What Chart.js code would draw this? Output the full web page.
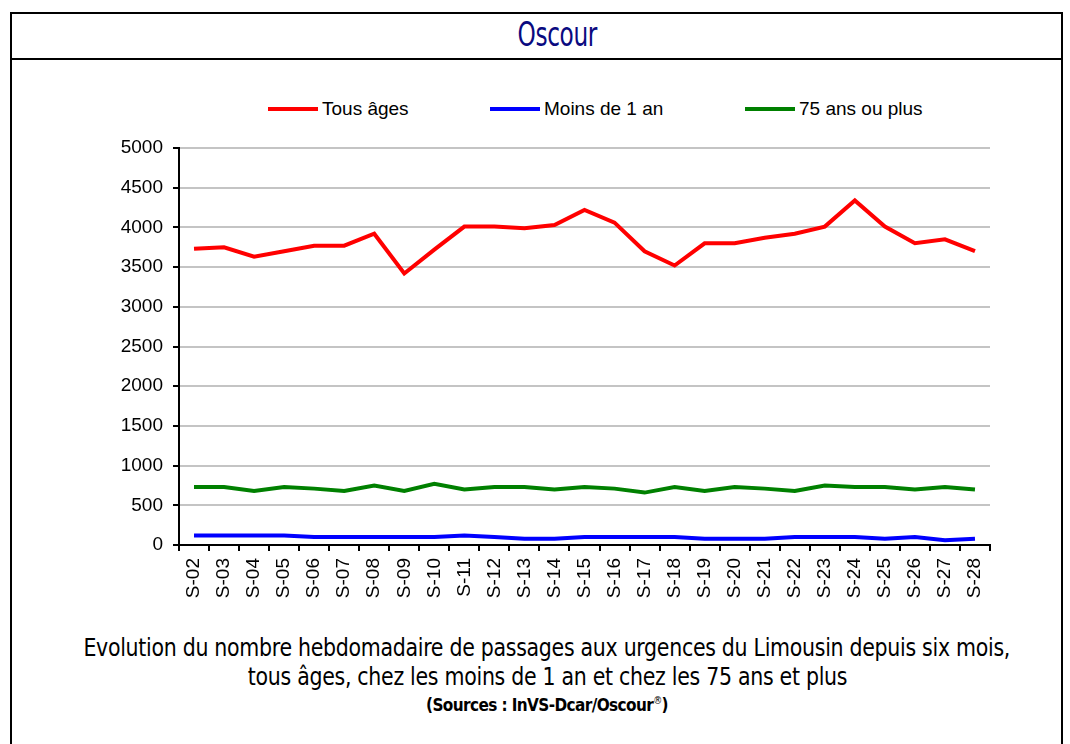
<!DOCTYPE html>
<html>
<head>
<meta charset="utf-8">
<script src="https://cdn.jsdelivr.net/npm/chart.js@4.4.1/dist/chart.umd.min.js"></script>
<style>
  html, body { margin: 0; padding: 0; background: #fff; overflow: hidden; }
  body { width: 1070px; height: 744px; position: relative; }
  .frame { position: absolute; left: 10px; top: 12px; width: 1053px; height: 740px;
           border: 2px solid #000; box-sizing: border-box; }
  .head { position: absolute; left: 10px; top: 12px; width: 1053px; height: 48px;
          border-bottom: 2px solid #000; box-sizing: border-box; }
  .row { position: absolute; left: 0; width: 1094px; text-align: center; white-space: nowrap;
         font-family: "DejaVu Sans Condensed", "DejaVu Sans", sans-serif; font-stretch: condensed; color: #000; }
  .row span { display: inline-block; }
  .ttl { top: 14px; left: 10px; font-size: 34px; color: #0a0a80; }
  .ttl span { transform: scaleX(0.76); letter-spacing: -0.5px; }
  .c1 { top: 634px; font-size: 24px; }
  .c2 { top: 663px; font-size: 24px; }
  .c1 span, .c2 span { transform: scaleX(0.95); letter-spacing: -0.3px; }
  .c3 { top: 695px; font-size: 17px; font-weight: bold; }
  .c3 span { letter-spacing: -0.6px; }
  .c3 sup { font-size: 10px; font-weight: normal; }
  #wrap { position: absolute; left: 110px; top: 120px; width: 970px; height: 490px; }
  .leg { position: absolute; top: 97px; height: 24px; font-family: "Liberation Sans", Arial, sans-serif;
         font-size: 19px; line-height: 24px; color: #000; white-space: nowrap; }
  .leg i { position: absolute; left: 0; top: 10px; width: 50px; height: 4px; }
  .leg b { position: absolute; left: 54px; top: 0; font-weight: normal; }
</style>
</head>
<body>
<div class="frame"></div>
<div class="head"></div>
<div class="row ttl"><span>Oscour</span></div>
<div id="legend"></div>
<div id="wrap"><canvas id="oscourChart"></canvas></div>
<div class="row c1"><span>Evolution du nombre hebdomadaire de passages aux urgences du Limousin depuis six mois,</span></div>
<div class="row c2"><span>tous âges, chez les moins de 1 an et chez les 75 ans et plus</span></div>
<div class="row c3"><span>(Sources : InVS-Dcar/Oscour<sup>®</sup>)</span></div>
<script>
// semaines
const semaines = ['S-02','S-03','S-04','S-05','S-06','S-07','S-08','S-09','S-10','S-11','S-12','S-13','S-14','S-15',
                  'S-16','S-17','S-18','S-19','S-20','S-21','S-22','S-23','S-24','S-25','S-26','S-27','S-28'];

const tousAges = [3730, 3750, 3630, 3700, 3770, 3770, 3920, 3420, 3720, 4010, 4010, 3990, 4030, 4220,
                  4060, 3700, 3520, 3800, 3800, 3870, 3920, 4010, 4340, 4010, 3800, 3850, 3700];
const moinsDe1An = [120, 120, 120, 120, 100, 100, 100, 100, 100, 120, 100, 80, 80, 100,
                    100, 100, 100, 80, 80, 80, 100, 100, 100, 80, 100, 60, 80];
const plus75Ans = [730, 730, 680, 730, 710, 680, 750, 680, 770, 700, 730, 730, 700, 730,
                   710, 660, 730, 680, 730, 710, 680, 750, 730, 730, 700, 730, 700];

const yTicks = [0, 500, 1000, 1500, 2000, 2500, 3000, 3500, 4000, 4500, 5000];

const series = [
    { label: 'Tous âges', data: tousAges, color: '#ff0000', legendX: 268 },
    { label: 'Moins de 1 an', data: moinsDe1An, color: '#0000ff', legendX: 490 },
    { label: '75 ans ou plus', data: plus75Ans, color: '#008000', legendX: 745 }
];

const tickFont = { family: 'Liberation Sans, Arial, sans-serif', size: 19 };

document.addEventListener('DOMContentLoaded', () => {
    // legende en HTML (positions comme dans l'original)
    const legend = document.getElementById('legend');
    series.forEach(s => {
        const item = document.createElement('div');
        item.className = 'leg';
        item.style.left = s.legendX + 'px';
        item.innerHTML = '<i style="background:' + s.color + '"></i><b>' + s.label + '</b>';
        legend.appendChild(item);
    });

    const ctx = document.getElementById('oscourChart');
    new Chart(ctx, {
        type: 'line',
        data: {
            labels: semaines,
            datasets: series.map(s => ({
                label: s.label,
                data: s.data,
                borderColor: s.color,
                backgroundColor: s.color
            }))
        },
        options: {
            responsive: true,
            maintainAspectRatio: false,
            animation: false,
            elements: {
                line: { borderWidth: 4, tension: 0 },
                point: { radius: 0 }
            },
            layout: { padding: { left: 0, right: 90, top: 28, bottom: 0 } },
            plugins: {
                legend: { display: false },
                tooltip: { enabled: false }
            },
            scales: {
                x: {
                    offset: true,
                    afterFit: (scale) => { scale.height = 65; },
                    grid: { drawOnChartArea: false, offset: true, color: '#000', tickLength: 6, lineWidth: 2 },
                    border: { color: '#000', width: 2 },
                    ticks: { color: '#000', font: tickFont, minRotation: 90, maxRotation: 90, autoSkip: false, padding: 7 }
                },
                y: {
                    min: 0,
                    max: 5000,
                    afterBuildTicks: (scale) => { scale.ticks = yTicks.map(v => ({ value: v })); },
                    afterFit: (scale) => { scale.width = 69; },
                    grid: { color: '#c4c4c4', lineWidth: 2, tickColor: '#000', tickLength: 6 },
                    border: { color: '#000', width: 2 },
                    ticks: { color: '#000', font: tickFont, padding: 10, callback: (v) => String(v) }
                }
            }
        }
    });
});
</script>
</body>
</html>
